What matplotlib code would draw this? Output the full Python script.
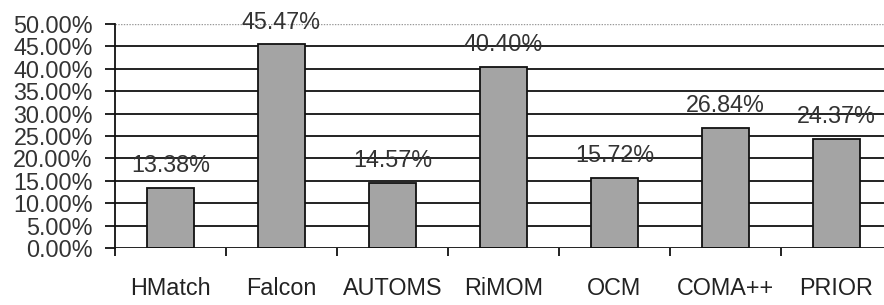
import matplotlib
matplotlib.use("Agg")
import matplotlib.pyplot as plt
import numpy as np

categories = ["HMatch", "Falcon", "AUTOMS", "RiMOM", "OCM", "COMA++", "PRIOR"]
values = [13.38, 45.47, 14.57, 40.40, 15.72, 26.84, 24.37]
yticks = [0, 5, 10, 15, 20, 25, 30, 35, 40, 45, 50]

plt.rcParams['font.family'] = ['Liberation Sans', 'DejaVu Sans']

fig = plt.figure(figsize=(8.84, 3.05), dpi=100)
W, H = 884, 305
ax = fig.add_axes([115 / W, (H - 248) / H, 777 / W, 224 / H])

x = np.arange(len(categories))
ax.bar(x, values, width=0.42, color='#a4a4a4', edgecolor='#111111', linewidth=1.3, zorder=3)

for v in yticks[1:]:
    if v == yticks[-1]:
        ax.axhline(v, color='#999999', linewidth=1.0, linestyle=(0, (1, 1)), zorder=1)
    else:
        ax.axhline(v, color='#111111', linewidth=1.3, zorder=1)
ax.axhline(0, color='#111111', linewidth=1.3, zorder=4)

for xi, v in zip(x, values):
    ax.annotate(f"{v:.2f}%", (xi, v), xytext=(0, 16), textcoords='offset points',
                ha='center', va='center', fontsize=16.8, color='#333333')

ax.set_xlim(-0.5, len(categories) - 0.5)
ax.set_ylim(0, 50)
ax.set_yticks(yticks)
ax.set_yticklabels([f"{v:.2f}%" for v in yticks], fontsize=16.8, color='#333333')
ax.tick_params(axis='y', direction='out', length=7, width=1.3, pad=9, color='#111111')

ax.set_xticks(x)
ax.set_xticklabels(categories, fontsize=16.8, color='#222222')
ax.tick_params(axis='x', which='major', length=0, pad=21)
ax.set_xticks(np.arange(-0.5, len(categories)), minor=True)
ax.tick_params(axis='x', which='minor', direction='out', length=6, width=1.3, color='#111111')

for s in ['top', 'right', 'bottom']:
    ax.spines[s].set_visible(False)
ax.spines['left'].set_linewidth(1.3)
ax.spines['left'].set_color('#111111')

fig.savefig('out.png', dpi=100)
